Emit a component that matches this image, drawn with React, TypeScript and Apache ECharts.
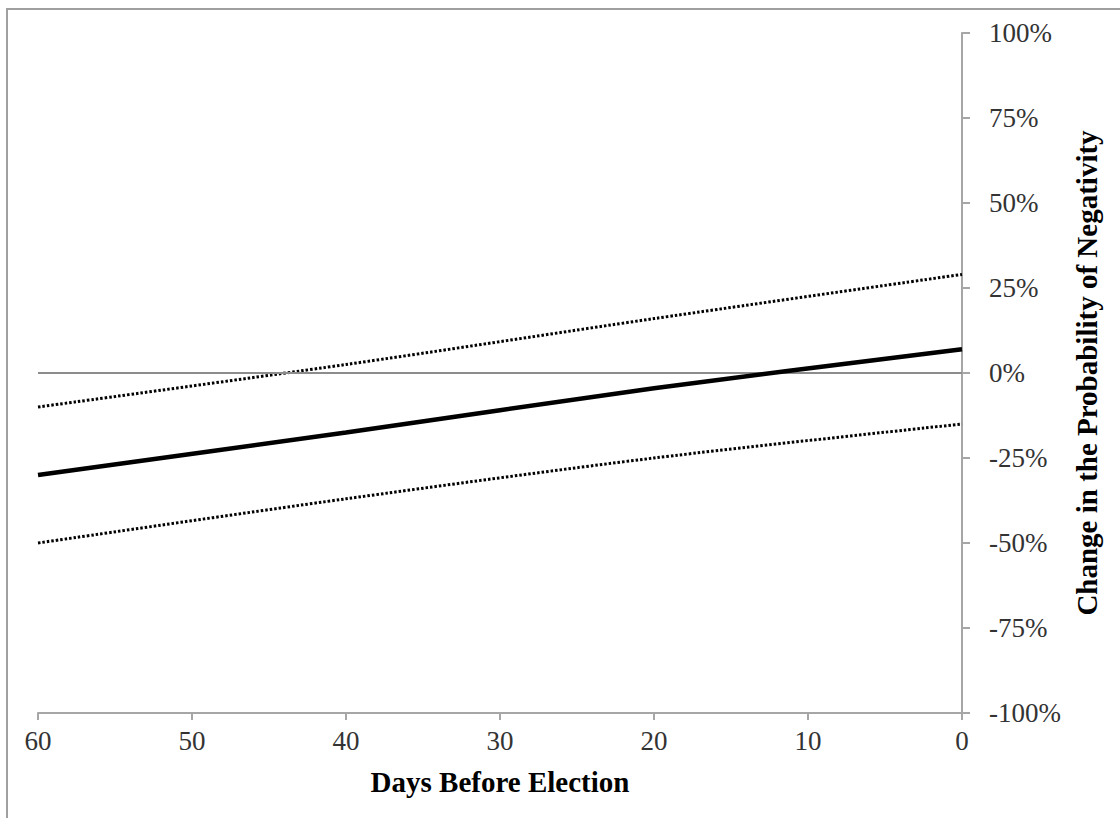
import React, { useEffect, useRef } from "react";
import * as echarts from "echarts";

const days = [60, 40, 20, 0];
const estimate = [-30, -17.5, -4.5, 7];
const upperBound = [-10, 2.5, 16, 29];
const lowerBound = [-50, -37, -25, -15];
const xTicks = [0, 10, 20, 30, 40, 50, 60];
const yTicks = [-100, -75, -50, -25, 0, 25, 50, 75, 100];

const FONT = "'Liberation Serif', 'Times New Roman', serif";

export default function App() {
  const ref = useRef<HTMLDivElement>(null);
  useEffect(() => {
    if (!ref.current) return;
    const chart = echarts.init(ref.current, undefined, { renderer: "svg" });
    const pairs = (ys: number[]) => days.map((d, i) => [d, ys[i]]);
    chart.setOption({
      animation: false,
      backgroundColor: "#ffffff",
      grid: { left: 38, right: 158, top: 33, bottom: 105 },
      xAxis: {
        type: "value",
        inverse: true,
        min: xTicks[0],
        max: xTicks[xTicks.length - 1],
        interval: 10,
        name: "Days Before Election",
        nameLocation: "middle",
        nameGap: 54,
        nameTextStyle: { fontFamily: FONT, fontWeight: "bold", fontSize: 29, color: "#000" },
        axisLine: { show: true, onZero: false, lineStyle: { color: "#a6a6a6", width: 2 } },
        axisTick: { show: true, inside: false, length: 7, lineStyle: { color: "#a6a6a6", width: 2 } },
        axisLabel: { fontFamily: FONT, fontSize: 27, color: "#333333", margin: 14 },
        splitLine: { show: false },
      },
      yAxis: {
        type: "value",
        position: "right",
        min: yTicks[0],
        max: yTicks[yTicks.length - 1],
        interval: 25,
        name: "Change in the Probability of Negativity",
        nameLocation: "middle",
        nameRotate: 90,
        nameGap: 110,
        nameTextStyle: { fontFamily: FONT, fontWeight: "bold", fontSize: 29, color: "#000" },
        axisLine: { show: true, onZero: false, lineStyle: { color: "#a6a6a6", width: 2 } },
        axisTick: { show: true, inside: false, length: 8, lineStyle: { color: "#a6a6a6", width: 2 } },
        axisLabel: { fontFamily: FONT, fontSize: 27, color: "#333333", margin: 27, formatter: "{value}%" },
        splitLine: { show: false },
      },
      series: [
        {
          type: "line",
          name: "Estimate",
          data: pairs(estimate),
          symbol: "none",
          smooth: 0.3,
          lineStyle: { color: "#000", width: 4.5 },
          z: 5,
          markLine: {
            silent: true,
            symbol: "none",
            label: { show: false },
            lineStyle: { color: "#8c8c8c", width: 2, type: "solid" },
            data: [{ yAxis: 0 }],
          },
        },
        {
          type: "line",
          name: "Upper",
          data: pairs(upperBound),
          symbol: "none",
          smooth: 0.3,
          lineStyle: { color: "#000", width: 3, type: [2.5, 2] },
        },
        {
          type: "line",
          name: "Lower",
          data: pairs(lowerBound),
          symbol: "none",
          smooth: 0.3,
          lineStyle: { color: "#000", width: 3, type: [2.5, 2] },
        },
      ],
      graphic: [
        {
          type: "polyline",
          shape: { points: [[7, 818], [7, 9], [1120, 9]] },
          style: { stroke: "#a0a0a0", lineWidth: 2, fill: "none" },
          silent: true,
        },
      ],
    });
    return () => chart.dispose();
  }, []);
  return (
    <div
      ref={ref}
      style={{ position: "absolute", left: 0, top: 0, width: 1120, height: 818 }}
    />
  );
}
